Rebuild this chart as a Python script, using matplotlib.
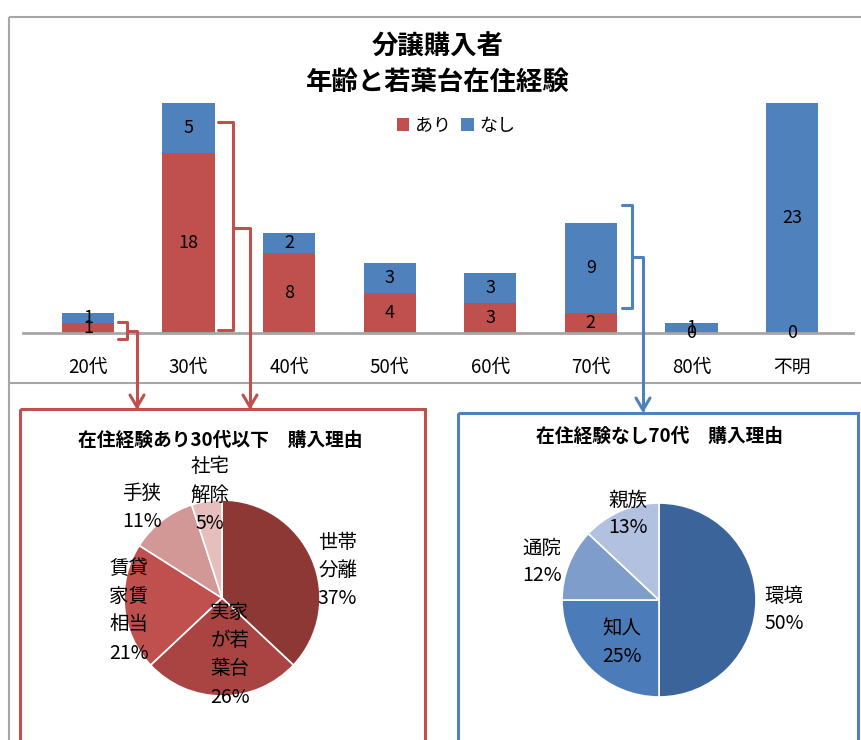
import matplotlib
matplotlib.use("Agg")
import matplotlib.pyplot as plt
from matplotlib.patches import Rectangle
import numpy as np

plt.rcParams['font.family'] = ['Noto Sans CJK JP', 'DejaVu Sans']

# bar chart data
ages = ["20代", "30代", "40代", "50代", "60代", "70代", "80代", "不明"]
ari = [1, 18, 8, 4, 3, 2, 0, 0]
nashi = [1, 5, 2, 3, 3, 9, 1, 23]

# pie data
left_labels = ["世帯\n分離", "実家\nが若\n葉台", "賃貸\n家賃\n相当", "手狭", "社宅\n解除"]
left_pct = [37, 26, 21, 11, 5]
right_labels = ["環境", "知人", "通院", "親族"]
right_pct = [50, 25, 12, 13]

RED = "#C0504D"
BLUE = "#4F81BD"
GRAY = "#A6A6A6"
left_colors = ["#8E3836", "#A94442", "#C0504D", "#D29896", "#E6BEBD"]
right_colors = ["#3B659A", "#4B7BB8", "#7F9DCB", "#B2C1DF"]

W, H = 862, 740
fig = plt.figure(figsize=(W / 100, H / 100), dpi=100)


def px_axes(x0, y0, x1, y1):
    " axes from a pixel box, origin top left "
    return fig.add_axes([x0 / W, 1 - y1 / H, (x1 - x0) / W, (y1 - y0) / H])


# ---- stacked bars
ax = px_axes(23, 93, 853, 333)
x = np.arange(len(ages))
b1 = ax.bar(x, ari, 0.52, color=RED, label="あり")
b2 = ax.bar(x, nashi, 0.52, bottom=ari, color=BLUE, label="なし")
ax.bar_label(b1, label_type="center", fontsize=13)
ax.bar_label(b2, label_type="center", fontsize=13)
ax.set_xlim(-0.646, 7.607)
ax.set_ylim(0, 24)
ax.set_xticks(x, ages, fontsize=13.5)
ax.set_yticks([])
ax.tick_params(length=0, pad=17)
for s in ["top", "left", "right"]:
    ax.spines[s].set_visible(False)
ax.spines["bottom"].set_color(GRAY)
ax.spines["bottom"].set_linewidth(2)
ax.patch.set_alpha(0)

fig.legend(handles=[b1, b2], loc="center", bbox_to_anchor=(456 / W, 1 - 126 / H),
           ncol=2, frameon=False, fontsize=13, handlelength=0.7, handleheight=0.7,
           handletextpad=0.3, columnspacing=0.6)
fig.text(438 / W, 1 - 47 / H, "分譲購入者", ha="center", va="center",
         fontsize=19, fontweight="bold")
fig.text(438 / W, 1 - 82 / H, "年齢と若葉台在住経験", ha="center", va="center",
         fontsize=19, fontweight="bold")

# ---- pies
wp = dict(edgecolor="white", linewidth=1.2)

lax = px_axes(124, 500, 320, 696)
lax.pie(left_pct, colors=left_colors, startangle=90, counterclock=False,
        wedgeprops=wp)
lax.set_xlim(-1, 1)
lax.set_ylim(-1, 1)
left_pos = [(1.18, 0.28), (0.08, -0.58), (-0.95, -0.13), (-0.82, 0.92), (-0.12, 1.05)]
for lbl, p, (lx, ly) in zip(left_labels, left_pct, left_pos):
    lax.text(lx, ly, f"{lbl}\n{p}%", ha="center", va="center", fontsize=14,
             linespacing=1.45)
fig.text(220 / W, 1 - 440 / H, "在住経験あり30代以下　購入理由", ha="center",
         va="center", fontsize=13.5, fontweight="bold")

rax = px_axes(562, 503, 756, 697)
rax.pie(right_pct, colors=right_colors, startangle=90, counterclock=False,
        wedgeprops=wp)
rax.set_xlim(-1, 1)
rax.set_ylim(-1, 1)
right_pos = [(1.29, -0.10), (-0.38, -0.44), (-1.21, 0.39), (-0.32, 0.89)]
for lbl, p, (lx, ly) in zip(right_labels, right_pct, right_pos):
    rax.text(lx, ly, f"{lbl}\n{p}%", ha="center", va="center", fontsize=14,
             linespacing=1.4)
fig.text(660 / W, 1 - 436 / H, "在住経験なし70代　購入理由", ha="center",
         va="center", fontsize=13.5, fontweight="bold")

# ---- frames, brackets, arrows (pixel overlay)
ov = fig.add_axes([0, 0, 1, 1])
ov.set_xlim(0, W)
ov.set_ylim(H, 0)
ov.axis("off")
ov.patch.set_alpha(0)

ov.add_patch(Rectangle((9, 17), 870, 760, fill=False, edgecolor=GRAY, lw=1.5))
ov.plot([9, W], [383, 383], color=GRAY, lw=1.5)
ov.add_patch(Rectangle((20, 409), 405, 350, fill=False, edgecolor=RED, lw=2.2))
ov.add_patch(Rectangle((458, 413), 400, 350, fill=False, edgecolor=BLUE, lw=2.2))


def bracket(x0, x1, top, bot, mid, xa, ya, color):
    " right brace with a line to a down arrow "
    kw = dict(color=color, lw=2.2, solid_joinstyle="round", solid_capstyle="round")
    ov.plot([x0, x1, x1, x0], [top, top, bot, bot], **kw)
    ov.plot([x1, xa, xa], [mid, mid, ya], **kw)
    ov.plot([xa - 7, xa, xa + 7], [ya - 12, ya, ya - 12], **kw)


bracket(118, 127, 322, 339, 331, 137, 407, RED)
bracket(218, 233, 122, 330, 228, 250, 407, RED)
bracket(622, 632, 205, 308, 257, 643, 410, BLUE)

fig.savefig("out.png", dpi=100)
